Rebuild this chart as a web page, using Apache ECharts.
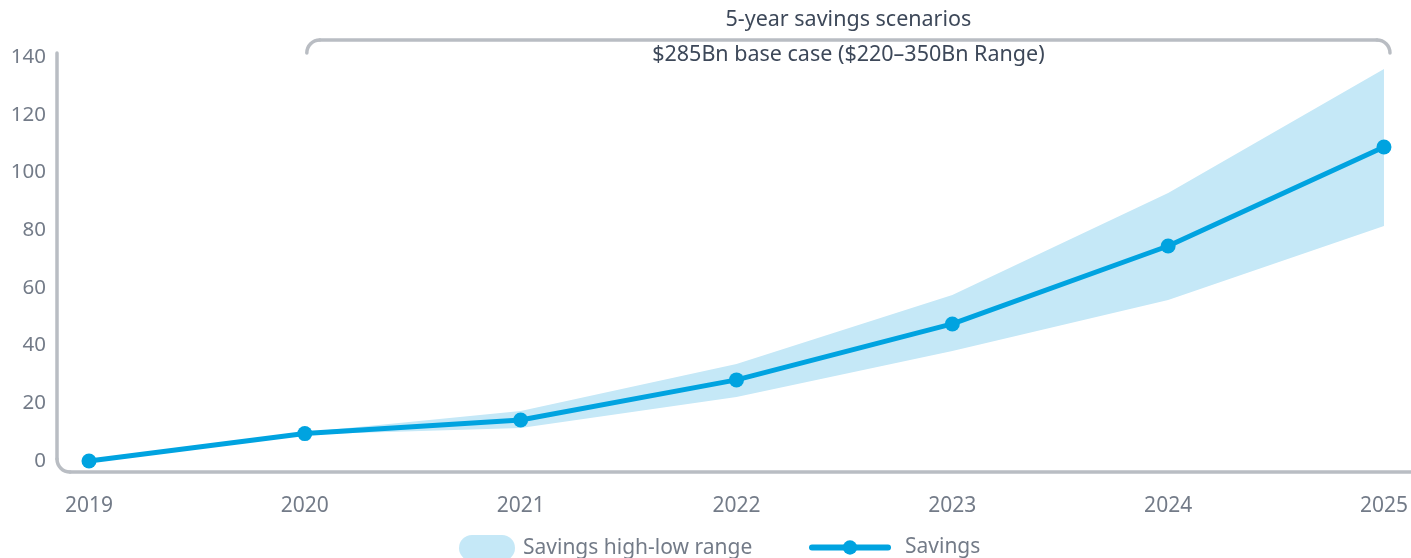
<!DOCTYPE html>
<html>
<head>
<meta charset="utf-8">
<script src="https://cdn.jsdelivr.net/npm/echarts@6/dist/echarts.min.js"></script>
<style>
html,body{margin:0;padding:0;background:#fff;}
#chart{width:1411px;height:558px;}
</style>
</head>
<body>
<div id="chart"></div>
<script>
const years = ['2019', '2020', '2021', '2022', '2023', '2024', '2025'];
const savings = [0, 9.5, 14.2, 28.1, 47.5, 74.5, 108.8];
const lowRange = [0, 9.2, 11.4, 22.2, 38.1, 55.8, 81.4];
const highRange = [0, 10.0, 17.3, 33.6, 57.5, 92.9, 135.8];
const yTicks = [0, 20, 40, 60, 80, 100, 120, 140];
const bracketTitle = '5-year savings scenarios';
const bracketSubtitle = '$285Bn base case ($220–350Bn Range)';

const FONT = '"Noto Sans", "Open Sans", sans-serif';
const LABEL = '#737b88';
const AXIS = '#b9bdc3';
const LINE = '#00a3e0';
const BAND = '#c5e8f7';
const DARK = '#3d4859';

const chart = echarts.init(document.getElementById('chart'), null, {renderer: 'canvas'});
const bandDiff = highRange.map((h, i) => +(h - lowRange[i]).toFixed(2));

const option = {
  animation: false,
  textStyle: {fontFamily: FONT},
  grid: {left: 89, right: 27, top: 57, bottom: 97, containLabel: false},
  xAxis: {
    type: 'category',
    data: years,
    boundaryGap: false,
    axisLine: {show: false},
    axisTick: {show: false},
    splitLine: {show: false},
    axisLabel: {color: LABEL, fontSize: 21, fontFamily: FONT, margin: 35}
  },
  yAxis: {
    type: 'value',
    min: yTicks[0],
    max: yTicks[yTicks.length - 1],
    interval: 20,
    axisLine: {show: false},
    axisTick: {show: false},
    splitLine: {show: false},
    axisLabel: {color: LABEL, fontSize: 20.5, fontFamily: FONT, margin: 43}
  },
  legend: [
    {
      left: 459, top: 535, padding: 0,
      itemWidth: 56, itemHeight: 26,
      textStyle: {color: LABEL, fontSize: 21, fontFamily: FONT, padding: [0, 0, 0, 3]},
      data: [{name: 'Savings high-low range', icon: 'path://M13,0 L43,0 A13,13 0 0 1 43,26 L13,26 A13,13 0 0 1 13,0 Z', itemStyle: {color: BAND}}]
    },
    {
      left: 809, top: 537, padding: 0,
      itemWidth: 76, itemHeight: 18,
      textStyle: {color: LABEL, fontSize: 21, fontFamily: FONT, padding: [0, 0, 0, 12]},
      data: [{name: 'Savings', lineStyle: {width: 6, cap: 'round', color: LINE}, itemStyle: {color: LINE}}]
    }
  ],
  series: [
    {
      name: 'low', type: 'line', stack: 'band', data: lowRange,
      symbol: 'none', lineStyle: {opacity: 0}, areaStyle: {opacity: 0}, silent: true
    },
    {
      name: 'Savings high-low range', type: 'line', stack: 'band', data: bandDiff,
      symbol: 'none', lineStyle: {width: 0, opacity: 0}, itemStyle: {color: BAND},
      areaStyle: {color: BAND, opacity: 1}
    },
    {
      name: 'Savings', type: 'line', data: savings, clip: false,
      symbol: 'circle', symbolSize: 15,
      lineStyle: {color: LINE, width: 5}, itemStyle: {color: LINE}
    }
  ]
};
chart.setOption(option);

function drawDecor() {
  const px = (cat, v) => chart.convertToPixel({gridIndex: 0}, [cat, v]);
  const p0 = px(0, 0);
  const pTop = px(0, 140);
  const p2020 = px(1, 140);
  const p2025 = px(6, 140);
  const W = chart.getWidth();
  const st = {stroke: AXIS, lineWidth: 3.5, fill: null, lineCap: 'round'};
  const r = 13;
  const ax = p0[0] - 32;
  const by = p0[1] + 11;
  const ty = pTop[1] - 4;
  const lx = p2020[0] + 2;
  const rx = p2025[0] + 6;
  const bTop = pTop[1] - 17;
  const bEnd = pTop[1] - 4;
  const br = 13;
  const cx = (lx + rx) / 2;
  const g = [
    {type: 'line', shape: {x1: ax, y1: ty, x2: ax, y2: by - r}, style: st},
    {type: 'arc', shape: {cx: ax + r, cy: by - r, r: r, startAngle: Math.PI / 2, endAngle: Math.PI, clockwise: true}, style: st},
    {type: 'line', shape: {x1: ax + r, y1: by, x2: W + 5, y2: by}, style: st},
    {type: 'line', shape: {x1: lx, y1: bEnd, x2: lx, y2: bTop + br}, style: st},
    {type: 'arc', shape: {cx: lx + br, cy: bTop + br, r: br, startAngle: Math.PI, endAngle: Math.PI * 1.5, clockwise: true}, style: st},
    {type: 'line', shape: {x1: lx + br, y1: bTop, x2: rx - br, y2: bTop}, style: st},
    {type: 'arc', shape: {cx: rx - br, cy: bTop + br, r: br, startAngle: Math.PI * 1.5, endAngle: Math.PI * 2, clockwise: true}, style: st},
    {type: 'line', shape: {x1: rx, y1: bTop + br, x2: rx, y2: bEnd}, style: st},
    {type: 'text', x: cx, y: bTop - 20, style: {text: bracketTitle, fill: DARK, font: `21.5px ${FONT}`, textAlign: 'center', textVerticalAlign: 'middle'}, z: 5},
    {type: 'text', x: cx, y: bTop + 15, style: {text: bracketSubtitle, fill: DARK, font: `21.5px ${FONT}`, textAlign: 'center', textVerticalAlign: 'middle'}, z: 5}
  ];
  g.forEach(e => { e.silent = true; if (!e.z) e.z = 1; });
  chart.setOption({graphic: g});
}
drawDecor();
</script>
</body>
</html>
